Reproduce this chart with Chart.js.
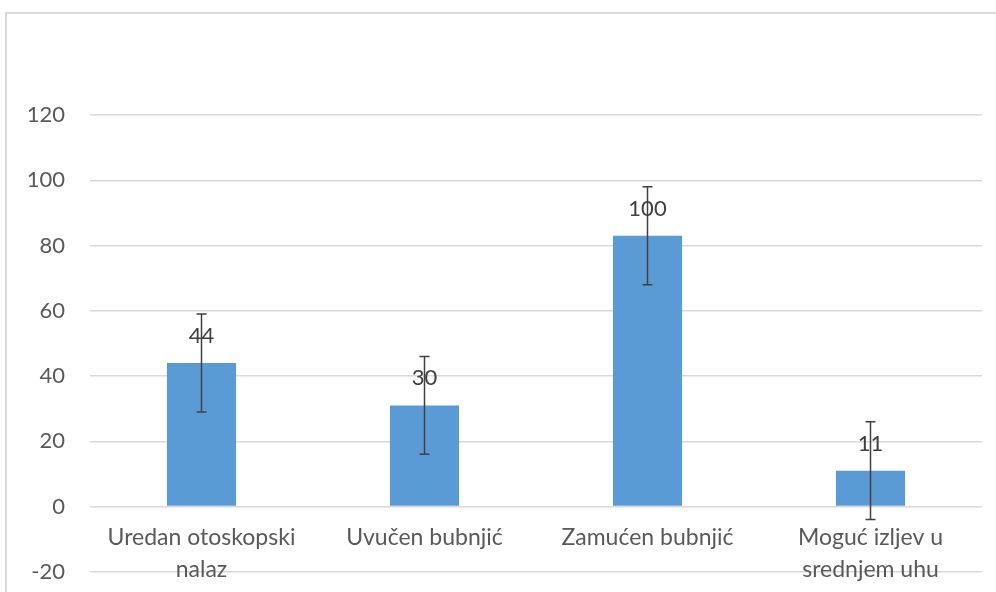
<!DOCTYPE html>
<html>
<head>
<meta charset="utf-8">
<script src="https://cdn.jsdelivr.net/npm/chart.js@4/dist/chart.umd.min.js"></script>
<style>
    html, body { margin: 0; padding: 0; background: #fff; }
    #wrap { position: relative; width: 996px; height: 592px; overflow: hidden; }
    #frame { position: absolute; left: 5px; top: 12px; width: 1100px; height: 700px; border: 2px solid #d9d9d9; box-sizing: border-box; }
    canvas { position: absolute; left: 0; top: 0; }
</style>
</head>
<body>
<div id="wrap">
    <div id="frame"></div>
    <canvas id="otoChart" width="996" height="610"></canvas>
</div>
<script>
const categories = [
    ['Uredan otoskopski', 'nalaz'],
    'Uvučen bubnjić',
    'Zamućen bubnjić',
    ['Moguć izljev u', 'srednjem uhu']
];
const barValues = [44, 31, 83, 11];
const errorValues = [15, 15, 15, 15];
const valueLabels = ['44', '30', '100', '11'];
const yTicks = [-20, 0, 20, 40, 60, 80, 100, 120];

// labels above the bars and error bars, drawn from the scales
const extrasPlugin = {
    id: 'extras',
    afterDatasetsDraw(chart) {
        const ctx = chart.ctx;
        const y = chart.scales.y;
        const meta = chart.getDatasetMeta(0);
        ctx.save();
        ctx.font = '22px Lato';
        ctx.fillStyle = '#404040';
        ctx.textAlign = 'center';
        ctx.textBaseline = 'middle';
        meta.data.forEach((bar, i) => {
            ctx.fillText(valueLabels[i], bar.x, y.getPixelForValue(barValues[i]) - 27);
        });
        ctx.strokeStyle = '#404040';
        ctx.lineWidth = 1.5;
        meta.data.forEach((bar, i) => {
            const top = y.getPixelForValue(barValues[i] + errorValues[i]);
            const bottom = y.getPixelForValue(barValues[i] - errorValues[i]);
            ctx.beginPath();
            ctx.moveTo(bar.x, top);
            ctx.lineTo(bar.x, bottom);
            ctx.moveTo(bar.x - 5, top);
            ctx.lineTo(bar.x + 5, top);
            ctx.moveTo(bar.x - 5, bottom);
            ctx.lineTo(bar.x + 5, bottom);
            ctx.stroke();
        });
        ctx.restore();
    }
};

const ctx = document.getElementById('otoChart').getContext('2d');
const otoChart = new Chart(ctx, {
    type: 'bar',
    data: {
        labels: categories,
        datasets: [{
            data: barValues,
            backgroundColor: '#5b9bd5',
            categoryPercentage: 0.31,
            barPercentage: 1
        }]
    },
    options: {
        responsive: false,
        animation: false,
        layout: {
            padding: { left: 0, right: 14, top: 115, bottom: 4 }
        },
        plugins: {
            legend: { display: false },
            tooltip: { enabled: false }
        },
        scales: {
            x: {
                position: { y: 0 },
                grid: { display: false },
                border: { display: false },
                ticks: {
                    color: '#595959',
                    font: { family: 'Lato', size: 23, lineHeight: 1.4 },
                    padding: 7,
                    maxRotation: 0,
                    autoSkip: false
                }
            },
            y: {
                min: -20,
                max: 120,
                afterBuildTicks(scale) {
                    scale.ticks = yTicks.map(v => ({ value: v }));
                },
                afterFit(scale) {
                    scale.width = 90;
                },
                grid: { color: '#d9d9d9', lineWidth: 1.5, drawTicks: false },
                border: { display: false },
                ticks: {
                    color: '#595959',
                    font: { family: 'Lato', size: 22 },
                    padding: 25
                }
            }
        }
    },
    plugins: [extrasPlugin]
});
</script>
</body>
</html>
